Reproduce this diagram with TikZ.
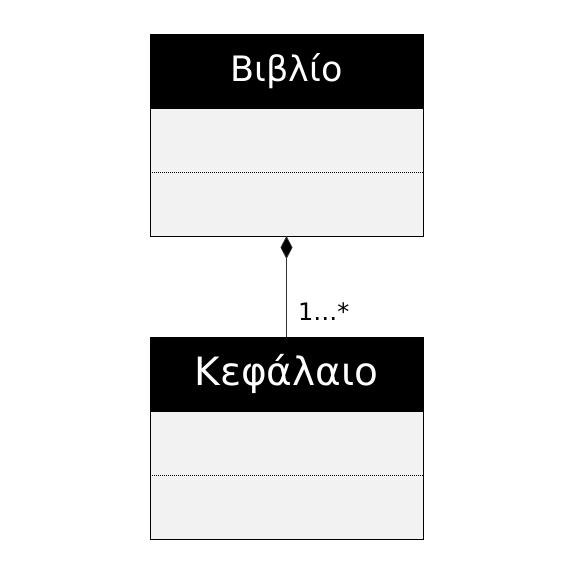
\documentclass[tikz,border=0pt]{standalone}
\usepackage{fontspec}
\setmainfont{DejaVu Sans}
\usetikzlibrary{arrows.meta,positioning}
\definecolor{bodygray}{HTML}{F2F2F2}
\tikzset{
  header/.style={draw=black, fill=black, text=white, minimum width=273pt, minimum height=74pt, inner sep=0pt, outer sep=0pt},
  classbody/.style={draw=black, fill=bodygray, minimum width=273pt, minimum height=128pt, inner sep=0pt, outer sep=0pt, line width=0.8pt},
  sep/.style={line width=0.6pt, dash pattern=on 1pt off 1pt},
  assoc/.style={line width=0.8pt, draw=black!80},
  mult/.style={font=\fontsize{24}{28}\selectfont, inner sep=0pt, anchor=base west}
}
\begin{document}
\begin{tikzpicture}[x=1pt,y=-1pt]
\useasboundingbox (0,0) rectangle (574,574);
\node[header, font=\fontsize{35}{40}\selectfont] (bookh) at (286.5,71) {Βιβλίο};
\node[classbody] (bookb) at (286.5,172) {};
\draw[sep] (bookb.west) -- (bookb.east);
\node[header, font=\fontsize{39}{44}\selectfont] (chh) at (286.5,374) {Κεφάλαιο};
\node[classbody] (chb) at (286.5,475) {};
\draw[sep] (chb.west) -- (chb.east);
\draw[assoc, {Diamond[width=12pt,length=23pt,fill=black]}-] (bookb.south) -- (chh.north);
\node[mult] (m) at (298,320) {1…*};
\end{tikzpicture}
\end{document}
